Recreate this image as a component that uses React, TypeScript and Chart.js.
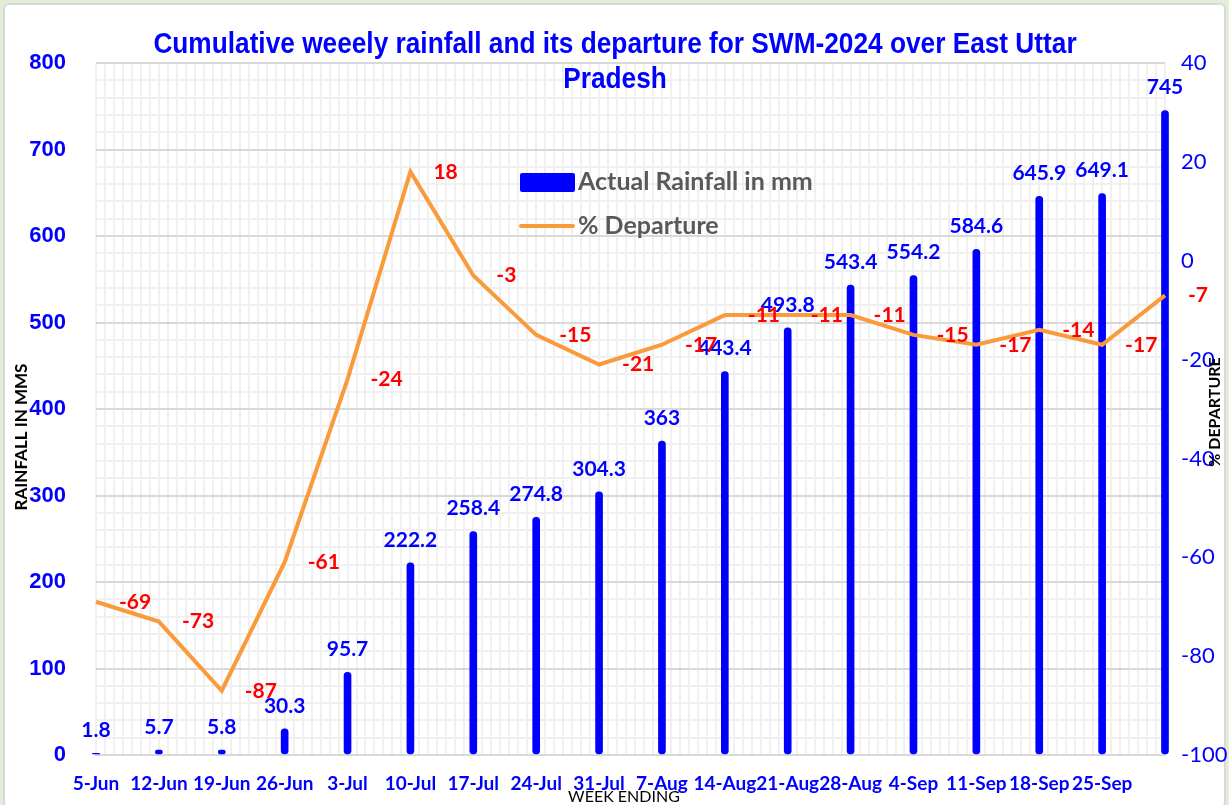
import React, { useEffect, useRef } from "react";
import { Chart, registerables } from "chart.js";

Chart.register(...registerables);

const weeks = [
  "5-Jun", "12-Jun", "19-Jun", "26-Jun", "3-Jul", "10-Jul", "17-Jul", "24-Jul", "31-Jul",
  "7-Aug", "14-Aug", "21-Aug", "28-Aug", "4-Sep", "11-Sep", "18-Sep", "25-Sep", "",
];
const rainfall = [
  1.8, 5.7, 5.8, 30.3, 95.7, 222.2, 258.4, 274.8, 304.3, 363, 443.4, 493.8, 543.4, 554.2, 584.6,
  645.9, 649.1, 745,
];
const departure = [
  -69, -73, -87, -61, -24, 18, -3, -15, -21, -17, -11, -11, -11, -15, -17, -14, -17, -7,
];
const titleLines = [
  "Cumulative weeely rainfall and its departure for SWM-2024 over East Uttar",
  "Pradesh",
];
const seriesNames = ["Actual Rainfall in mm", "% Departure"];
const leftAxisTitle = "RAINFALL IN MMS";
const rightAxisTitle = "% DEPARTURE";
const xAxisTitle = "WEEK ENDING";

const BLUE = "#0000FF";
const ORANGE = "#F99A3B";
const RED = "#FF0000";
const W = 1229;
const H = 805;

const labelPlugin = {
  id: "valueLabels",
  afterDatasetsDraw(chart: any) {
    const ctx = chart.ctx;
    ctx.save();
    ctx.textBaseline = "middle";
    const barMeta = chart.getDatasetMeta(0);
    ctx.font = "bold 21px Lato";
    ctx.fillStyle = BLUE;
    ctx.textAlign = "center";
    barMeta.data.forEach((el: any, i: number) => {
      ctx.fillText(String(rainfall[i]), el.x, el.y - 23);
    });
    const lineMeta = chart.getDatasetMeta(1);
    ctx.font = "bold 21px Lato";
    ctx.fillStyle = RED;
    ctx.textAlign = "left";
    lineMeta.data.forEach((el: any, i: number) => {
      ctx.fillText(String(departure[i]), el.x + 23, el.y);
    });
    ctx.restore();
  },
};

const decorPlugin = {
  id: "decor",
  afterDraw(chart: any) {
    const ctx = chart.ctx;
    ctx.save();
    // title (condensed)
    ctx.fillStyle = BLUE;
    ctx.textAlign = "center";
    ctx.textBaseline = "middle";
    ctx.font = "bold 29px 'Liberation Sans', Arial";
    titleLines.forEach((t, i) => {
      ctx.save();
      ctx.translate(615, 45 + i * 35);
      ctx.scale(0.905, 1);
      ctx.fillText(t, 0, 0);
      ctx.restore();
    });

    // legend
    ctx.fillStyle = BLUE;
    ctx.beginPath();
    (ctx as any).roundRect(520, 173, 55, 19, 2);
    ctx.fill();
    ctx.strokeStyle = ORANGE;
    ctx.lineWidth = 4;
    ctx.lineCap = "round";
    ctx.beginPath();
    ctx.moveTo(521, 226);
    ctx.lineTo(573, 226);
    ctx.stroke();
    ctx.fillStyle = "#595959";
    ctx.font = "bold 25px Lato";
    ctx.textAlign = "left";
    ctx.fillText(seriesNames[0], 578, 182);
    ctx.fillText(seriesNames[1], 578, 226);

    // axis titles
    ctx.fillStyle = "#000000";
    ctx.textAlign = "center";
    ctx.font = "bold 17px Lato";
    ctx.save();
    ctx.translate(22, 437);
    ctx.rotate(-Math.PI / 2);
    ctx.fillText(leftAxisTitle, 0, 0);
    ctx.restore();
    ctx.font = "bold 16px Lato";
    ctx.save();
    ctx.translate(1215, 412);
    ctx.rotate(-Math.PI / 2);
    ctx.fillText(rightAxisTitle, 0, 0);
    ctx.restore();
    ctx.font = "16px Lato";
    ctx.fillText(xAxisTitle, 624, 797);
    ctx.restore();
  },
};

export default function App() {
  const ref = useRef<HTMLCanvasElement | null>(null);

  useEffect(() => {
    document.body.style.margin = "0";
    const canvas = ref.current;
    if (!canvas) return;
    const chart = new Chart(canvas, {
      type: "bar",
      data: {
        labels: weeks,
        datasets: [
          {
            type: "bar",
            label: seriesNames[0],
            data: rainfall,
            backgroundColor: BLUE,
            barThickness: 7,
            borderRadius: 4,
            borderSkipped: false,
            yAxisID: "y",
            order: 1,
            clip: false,
          } as any,
          {
            type: "line",
            label: seriesNames[1],
            data: departure,
            borderColor: ORANGE,
            borderWidth: 4,
            pointRadius: 0,
            tension: 0,
            yAxisID: "y1",
            order: 0,
            clip: false,
          } as any,
        ],
      },
      options: {
        responsive: false,
        animation: false,
        devicePixelRatio: 1,
        layout: { padding: { top: 63, left: 0, right: 0, bottom: 0 } },
        plugins: {
          legend: { display: false },
          tooltip: { enabled: false },
          title: { display: false },
        },
        scales: {
          x: {
            type: "category",
            offset: false,
            grid: { display: false, drawTicks: false },
            border: { display: true, color: "#d9d9d9", width: 2 },
            ticks: {
              color: BLUE,
              font: { family: "Lato", weight: "bold", size: 19 },
              padding: 17,
              autoSkip: false,
              maxRotation: 0,
            },
            afterFit: (s: any) => {
              s.height = 50;
            },
          },
          xg: {
            type: "linear",
            position: "top",
            min: 0,
            max: 118,
            display: true,
            ticks: { display: false, stepSize: 1, autoSkip: false },
            grid: { color: "#f0f0f0", lineWidth: 2, drawTicks: false },
            border: { display: false },
            afterFit: (s: any) => {
              s.height = 0;
            },
          },
          y: {
            type: "linear",
            position: "left",
            min: 0,
            max: 800,
            ticks: {
              stepSize: 20,
              autoSkip: false,
              color: BLUE,
              padding: 30,
              font: { family: "'Liberation Sans', Arial", weight: "bold", size: 22 },
              callback: (v: any) => (Number(v) % 100 === 0 ? String(v) : ""),
            },
            grid: {
              drawTicks: false,
              color: (c: any) => (c.tick && c.tick.value % 100 === 0 ? "#d9d9d9" : "#f0f0f0"),
              lineWidth: 2,
            },
            border: { display: false },
            afterFit: (s: any) => {
              s.width = 96;
            },
          },
          y1: {
            type: "linear",
            position: "right",
            min: -100,
            max: 40,
            ticks: {
              stepSize: 20,
              autoSkip: false,
              color: BLUE,
              padding: 16,
              font: { family: "Lato", size: 22 },
            },
            grid: { display: false, drawTicks: false },
            border: { display: false },
            afterFit: (s: any) => {
              s.width = 64;
            },
          },
        },
      } as any,
      plugins: [labelPlugin, decorPlugin],
    });
    return () => chart.destroy();
  }, []);

  return (
    <div
      style={{
        position: "absolute",
        left: 0,
        top: 0,
        width: W,
        height: H,
        background: "#e3eed9",
        overflow: "hidden",
      }}
    >
      <div
        style={{
          position: "absolute",
          left: 3,
          top: 3,
          width: W - 10,
          height: H - 4,
          background: "#ffffff",
          border: "2px solid #d9d9d9",
          borderRadius: 6,
        }}
      />
      <canvas
        ref={ref}
        width={W}
        height={H}
        style={{ position: "absolute", left: 0, top: 0, width: W, height: H }}
      />
    </div>
  );
}
